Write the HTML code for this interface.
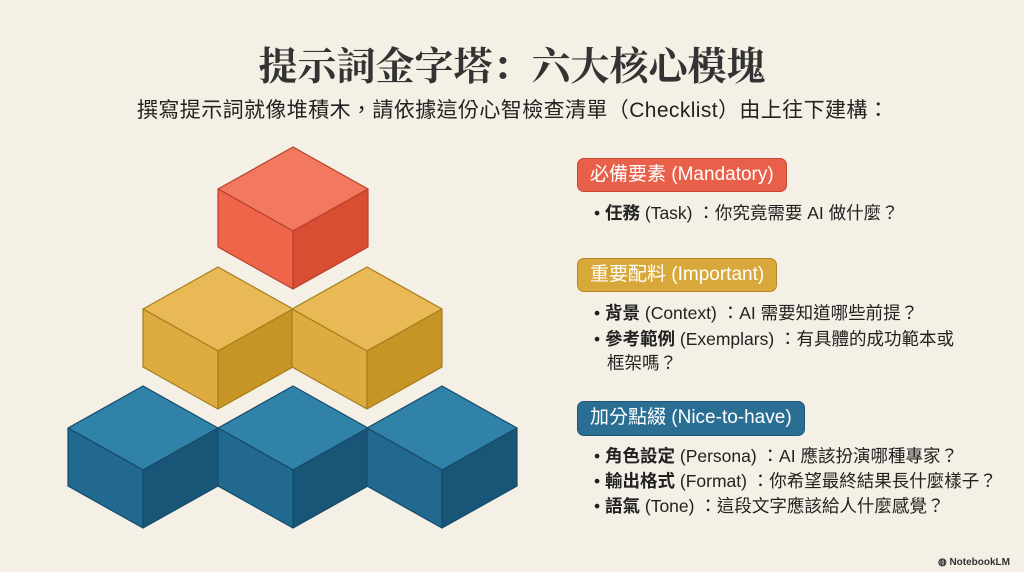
<!DOCTYPE html>
<html><head><meta charset="utf-8"><style>
body{margin:0;width:1024px;height:572px;background:#f4f0e6;position:relative;overflow:hidden;font-family:"Liberation Sans","Noto Sans CJK TC",sans-serif;color:#222}
.t{position:absolute;left:0;width:1024px;text-align:center;top:36px;font:bold 39px "Liberation Serif","Noto Serif CJK SC",serif;color:#333}
.s{position:absolute;left:137px;top:94px;font-size:21px;color:#222;white-space:nowrap;letter-spacing:0.4px}
.b{position:absolute;left:577px;height:32px;line-height:32px;padding:0 12px;border-radius:7px;color:#fff;font-size:19px;white-space:nowrap}
.l{position:absolute;left:594px;font-size:17.5px;white-space:nowrap;line-height:20px}
.l b{font-weight:bold}
.wm{position:absolute;right:14px;bottom:4px;font-size:10px;color:#333;font-weight:bold}
</style></head><body>
<div class="t">提示詞金字塔：六大核心模塊</div>
<div class="s">撰寫提示詞就像堆積木，請依據這份心智檢查清單（Checklist）由上往下建構：</div>
<svg width="1024" height="572" style="position:absolute;left:0;top:0">
<g stroke-width="1.2" stroke-linejoin="round">
<g transform="translate(293,147)" stroke="#b8412a"><polygon points="0,0 75,42 0,84 -75,42" fill="#f27860"/><polygon points="-75,42 0,84 0,142 -75,100" fill="#ef654a"/><polygon points="75,42 0,84 0,142 75,100" fill="#d94d33"/></g>
<g transform="translate(218,267)" stroke="#a77d1c"><polygon points="0,0 75,42 0,84 -75,42" fill="#e8b955"/><polygon points="-75,42 0,84 0,142 -75,100" fill="#ddab40"/><polygon points="75,42 0,84 0,142 75,100" fill="#c79426"/></g>
<g transform="translate(367,267)" stroke="#a77d1c"><polygon points="0,0 75,42 0,84 -75,42" fill="#e8b955"/><polygon points="-75,42 0,84 0,142 -75,100" fill="#ddab40"/><polygon points="75,42 0,84 0,142 75,100" fill="#c79426"/></g>
<g transform="translate(143,386)" stroke="#154a6a"><polygon points="0,0 75,42 0,84 -75,42" fill="#3182a8"/><polygon points="-75,42 0,84 0,142 -75,100" fill="#22698f"/><polygon points="75,42 0,84 0,142 75,100" fill="#195577"/></g>
<g transform="translate(293,386)" stroke="#154a6a"><polygon points="0,0 75,42 0,84 -75,42" fill="#3182a8"/><polygon points="-75,42 0,84 0,142 -75,100" fill="#22698f"/><polygon points="75,42 0,84 0,142 75,100" fill="#195577"/></g>
<g transform="translate(442,386)" stroke="#154a6a"><polygon points="0,0 75,42 0,84 -75,42" fill="#3182a8"/><polygon points="-75,42 0,84 0,142 -75,100" fill="#22698f"/><polygon points="75,42 0,84 0,142 75,100" fill="#195577"/></g>
</g>
</svg>
<div class="b" style="top:158px;background:#e9604a;border:1px solid #c9452f">必備要素 (Mandatory)</div>
<div class="l" style="top:203px">• <b>任務</b> (Task) ：你究竟需要 AI 做什麼？</div>
<div class="b" style="top:258px;background:#d9a83a;border:1px solid #b88920">重要配料 (Important)</div>
<div class="l" style="top:303px">• <b>背景</b> (Context) ：AI 需要知道哪些前提？</div>
<div class="l" style="top:329px">• <b>參考範例</b> (Exemplars) ：有具體的成功範本或</div>
<div class="l" style="top:353px;left:607px">框架嗎？</div>
<div class="b" style="top:401px;height:33px;background:#2a6f93;border:1px solid #1d5677">加分點綴 (Nice-to-have)</div>
<div class="l" style="top:446px">• <b>角色設定</b> (Persona) ：AI 應該扮演哪種專家？</div>
<div class="l" style="top:471px">• <b>輸出格式</b> (Format) ：你希望最終結果長什麼樣子？</div>
<div class="l" style="top:496px">• <b>語氣</b> (Tone) ：這段文字應該給人什麼感覺？</div>
<div class="wm">◍ NotebookLM</div>
</body></html>
